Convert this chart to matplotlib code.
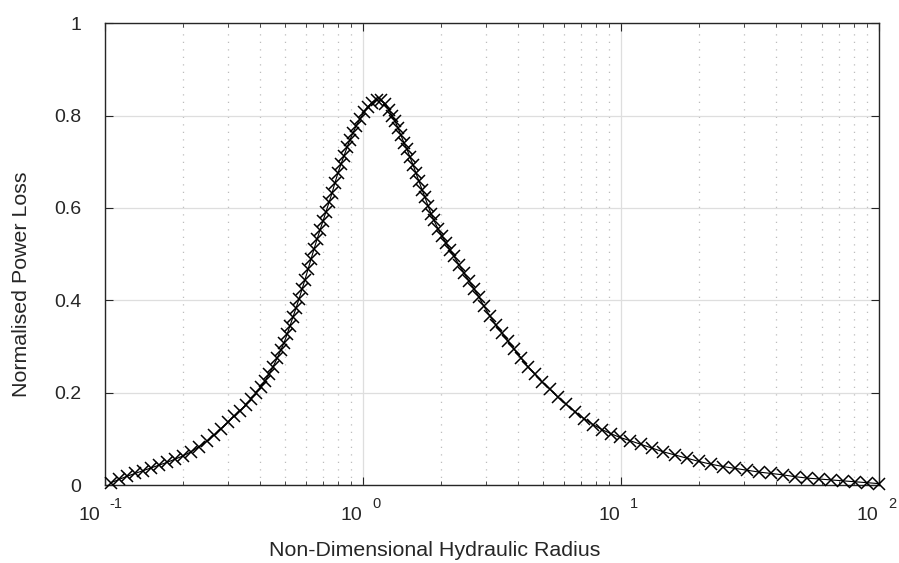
import matplotlib
matplotlib.use('Agg')
import matplotlib.pyplot as plt
from matplotlib.ticker import FixedLocator, LogLocator, NullFormatter

# ---- data ----
radius = [0.1055, 0.1133, 0.1217, 0.1307, 0.1404, 0.1508, 0.1619, 0.1739, 0.1868, 0.2006,
          0.2154, 0.2314, 0.2485, 0.2645, 0.2816, 0.2997, 0.3162, 0.3336, 0.3520, 0.3680,
          0.3848, 0.4024, 0.4170, 0.4322, 0.4479, 0.4642, 0.4810, 0.4941, 0.5075, 0.5213,
          0.5354, 0.5499, 0.5649, 0.5802, 0.5959, 0.6121, 0.6287, 0.6458, 0.6633, 0.6813,
          0.6998, 0.7188, 0.7383, 0.7583, 0.7789, 0.8000, 0.8217, 0.8440, 0.8669, 0.8905,
          0.9146, 0.9395, 0.9736, 1.009, 1.046, 1.084, 1.133,
          1.174, 1.217, 1.261, 1.295, 1.331, 1.367, 1.404, 1.442, 1.481, 1.521,
          1.562, 1.605, 1.648, 1.693, 1.739, 1.786, 1.835, 1.884, 1.953, 2.024,
          2.098, 2.174, 2.253, 2.356, 2.463, 2.575, 2.693, 2.816, 2.944, 3.106,
          3.277, 3.458, 3.648, 3.849, 4.096, 4.361, 4.642, 4.941, 5.307, 5.699,
          6.121, 6.633, 7.188, 7.789, 8.441, 9.147, 9.911, 10.84, 11.95, 13.19,
          14.55, 16.19, 18.02, 20.06, 22.33, 24.85, 27.66, 30.79, 34.27, 38.15,
          42.46, 47.26, 52.60, 58.55, 65.17, 72.54, 80.74, 89.87, 100.0]

power_loss = [0.005, 0.012, 0.019, 0.025, 0.031, 0.037, 0.043, 0.049, 0.056, 0.063,
              0.072, 0.083, 0.095, 0.108, 0.122, 0.136, 0.149, 0.161, 0.174, 0.186,
              0.199, 0.213, 0.225, 0.240, 0.256, 0.274, 0.293, 0.308, 0.326, 0.345,
              0.364, 0.383, 0.403, 0.424, 0.445, 0.467, 0.489, 0.511, 0.532, 0.552,
              0.572, 0.592, 0.612, 0.632, 0.655, 0.676, 0.695, 0.713, 0.731, 0.748,
              0.763, 0.777, 0.793, 0.807, 0.819, 0.828, 0.834,
              0.833, 0.826, 0.812, 0.800, 0.788, 0.773, 0.757, 0.741, 0.727, 0.710,
              0.694, 0.675, 0.658, 0.640, 0.623, 0.605, 0.588, 0.573, 0.555, 0.539,
              0.524, 0.509, 0.495, 0.477, 0.459, 0.442, 0.425, 0.407, 0.387, 0.366,
              0.346, 0.329, 0.311, 0.294, 0.275, 0.256, 0.240, 0.224, 0.207, 0.190,
              0.175, 0.159, 0.144, 0.131, 0.120, 0.111, 0.103, 0.096, 0.088, 0.080,
              0.072, 0.065, 0.058, 0.051, 0.045, 0.040, 0.036, 0.032, 0.028, 0.025,
              0.022, 0.018, 0.015, 0.013, 0.011, 0.009, 0.007, 0.005, 0.003]

y_ticks = [0, 0.2, 0.4, 0.6, 0.8, 1]
y_tick_labels = ['0', '0.2', '0.4', '0.6', '0.8', '1']
x_decades = [0.1, 1, 10, 100]
x_exponents = ['-1', '0', '1', '2']
x_label = 'Non-Dimensional Hydraulic Radius'
y_label = 'Normalised Power Loss'

# ---- styling ----
plt.rcParams['font.family'] = ['Liberation Sans', 'DejaVu Sans']
TXT = '#262626'
W, H = 899, 563
fig = plt.figure(figsize=(W / 100, H / 100), dpi=100)
ax = fig.add_axes([105 / W, (H - 485) / H, 774 / W, 461.7 / H])

ax.plot(radius, power_loss, '-x', color='black', lw=0.8, ms=9, mew=1.1,
        clip_on=False, zorder=3)

ax.set_xscale('log')
ax.set_xlim(0.1, 100)
ax.set_ylim(0, 1)
ax.set_yticks(y_ticks)
ax.set_yticklabels(y_tick_labels)
ax.xaxis.set_major_locator(FixedLocator(x_decades))
ax.xaxis.set_minor_locator(LogLocator(base=10, subs=range(2, 10)))
ax.xaxis.set_major_formatter(NullFormatter())
ax.xaxis.set_minor_formatter(NullFormatter())

ax.tick_params(which='both', direction='in', top=True, right=True, color=TXT)
ax.tick_params(which='major', length=5.5, width=0.8)
ax.tick_params(which='minor', length=2.8, width=0.6)
ax.tick_params(axis='y', labelsize=14, labelcolor=TXT, pad=17)

ax.grid(which='major', color='#dedede', lw=0.9, ls='-')
ax.grid(which='minor', axis='x', color='#bdbdbd', lw=0.9, ls=(0, (1, 5)))
ax.set_axisbelow(True)
for s in ax.spines.values():
    s.set_color(TXT)
    s.set_linewidth(1.0)

# MATLAB-style "10 ^exp" tick labels
for dec, ex in zip(x_decades, x_exponents):
    shift = -(len(ex) - 1) * 3.0  # points
    ax.annotate('10', xy=(dec, 0), xycoords=('data', 'axes fraction'),
                xytext=(-0.7 + shift, -25.5), textcoords='offset points',
                ha='right', va='baseline', fontsize=14, color=TXT,
                annotation_clip=False)
    ax.annotate(ex, xy=(dec, 0), xycoords=('data', 'axes fraction'),
                xytext=(6.5 + shift, -16.8), textcoords='offset points',
                ha='left', va='baseline', fontsize=10.5, color=TXT,
                annotation_clip=False)

fig.text(435 / W, 1 - 551 / H, x_label, ha='center', va='center',
         fontsize=15.4, color=TXT)
fig.text(22 / W, 1 - 284 / H, y_label, ha='center', va='center',
         rotation=90, fontsize=15.4, color=TXT)

fig.savefig('out.png', dpi=100, facecolor='white')
